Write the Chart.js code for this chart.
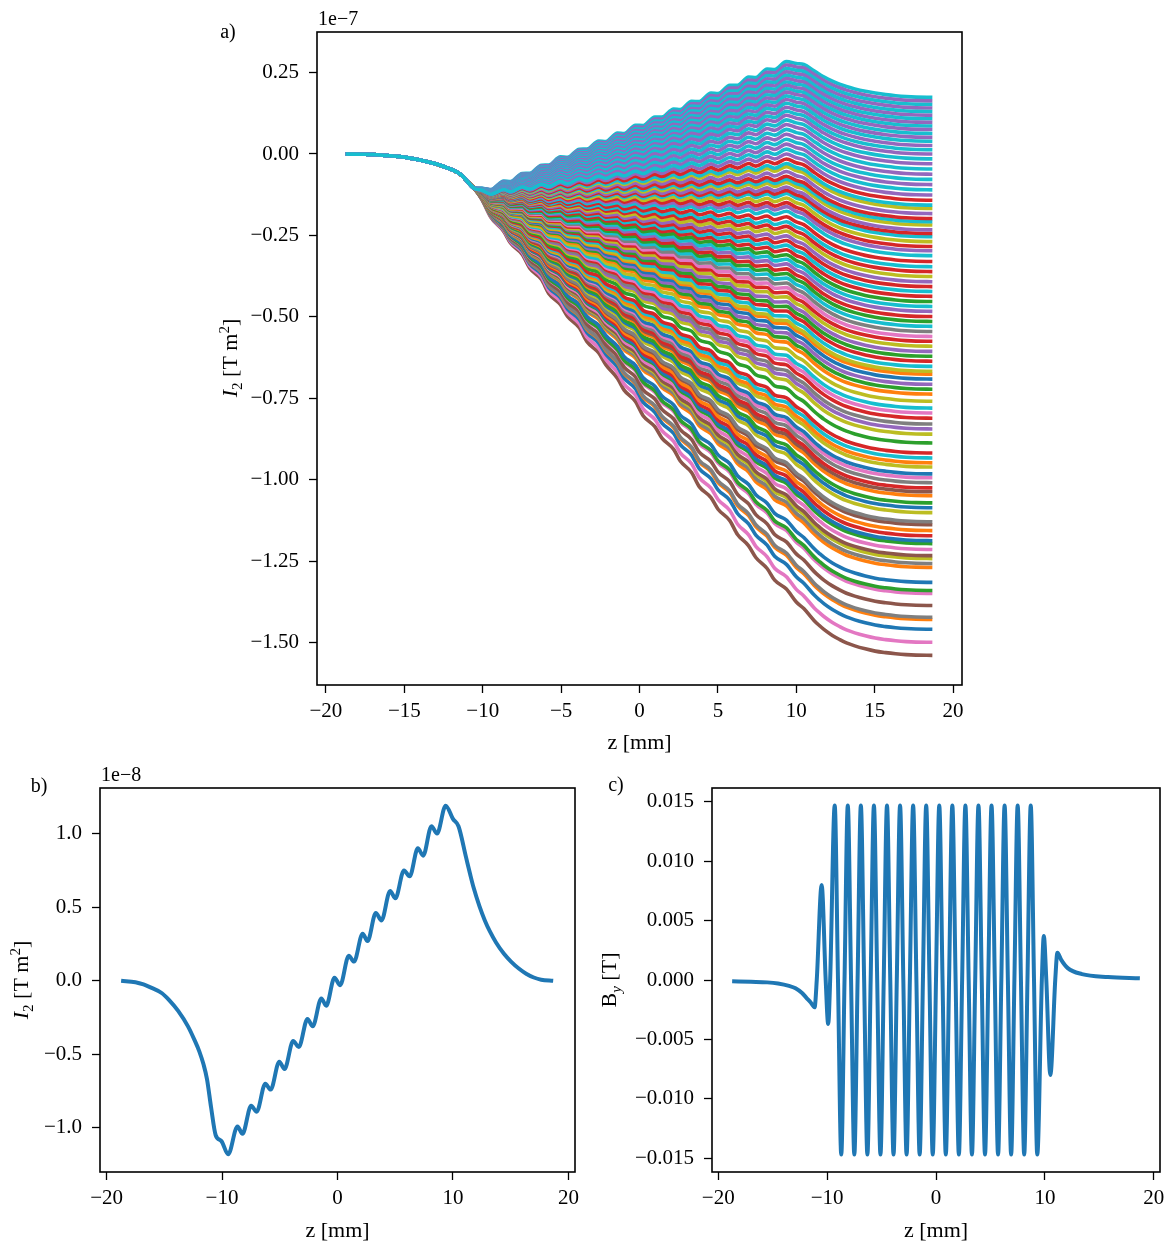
<!DOCTYPE html>
<html>
<head>
<meta charset="utf-8">
<title>I2 and By along z</title>
<script src="https://cdn.jsdelivr.net/npm/chart.js@4.4.1/dist/chart.umd.min.js"></script>
<style>
  html, body { margin: 0; padding: 0; background: #fff; }
  #wrap { position: relative; width: 1172px; height: 1245px; }
  .panel { position: absolute; }
</style>
</head>
<body>
<div id="wrap">
  <div class="panel" style="left:200px;top:0;width:780px;height:760px"><canvas id="chartA"></canvas></div>
  <div class="panel" style="left:0;top:760px;width:590px;height:485px"><canvas id="chartB"></canvas></div>
  <div class="panel" style="left:590px;top:760px;width:582px;height:485px"><canvas id="chartC"></canvas></div>
</div>
<script>
// ---------------- data ----------------
// z positions [mm] of the sampled second field integral
const zGrid = [-18.74, -17.5, -16.8, -16.2, -15.2, -14.6, -13.8, -12.95, -12.4, -11.97,
  -11.6, -11.3, -10.95, -10.55, -10.05, -9.47, -8.66, -8.23, -7.48, -7.0,
  -6.25, -5.79, -5.04, -4.59, -3.84, -3.35, -2.60, -2.15, -1.40, -0.98,
  -0.26, 0.23, 0.98, 1.43, 2.18, 2.60, 3.32, 3.81, 4.56, 5.01,
  5.76, 6.25, 6.96, 7.42, 8.14, 8.62, 9.37, 10.0, 10.48, 11.13,
  11.5, 11.78, 12.3, 12.76, 13.2, 13.73, 14.4, 15.03, 15.7, 16.34,
  17.0, 17.64, 18.68];

// b) second field integral I2 [1e-8 T m^2]
const I2b = [0, -0.01, -0.025, -0.045, -0.085, -0.13, -0.205, -0.31, -0.40, -0.48,
  -0.57, -0.67, -0.86, -1.05, -1.09, -1.18, -0.99, -1.04, -0.85, -0.89,
  -0.70, -0.74, -0.55, -0.60, -0.41, -0.45, -0.26, -0.31, -0.12, -0.17,
  0.02, -0.03, 0.17, 0.13, 0.32, 0.27, 0.46, 0.41, 0.61, 0.56,
  0.75, 0.71, 0.90, 0.85, 1.05, 1.00, 1.19, 1.10, 1.05, 0.84,
  0.72, 0.635, 0.505, 0.41, 0.335, 0.26, 0.185, 0.13, 0.083, 0.048,
  0.022, 0.007, 0];

// a) fraction of each trajectory's end offset reached at z (same z positions)
const driftA = [0, 0, 0, 0, 0, 0, 0, 0, 0, 0,
  0, 0, 0, 0, 0.02, 0.05, 0.09, 0.11, 0.145, 0.17,
  0.205, 0.23, 0.265, 0.285, 0.32, 0.345, 0.38, 0.40, 0.44, 0.46,
  0.495, 0.52, 0.555, 0.575, 0.61, 0.63, 0.665, 0.69, 0.725, 0.745,
  0.78, 0.805, 0.84, 0.86, 0.895, 0.915, 0.945, 0.965, 0.975, 0.985,
  0.988, 0.99, 0.993, 0.995, 0.997, 0.998, 0.999, 1, 1, 1,
  1, 1, 1];

// a) end value of each curve [1e-7 T m^2], in drawing order
const endValuesA = [
  -1.539, -1.499, -1.459, -1.429, -1.422, -1.386, -1.349, -1.340, -1.315, -1.269,
  -1.257, -1.242, -1.233, -1.214, -1.196, -1.187, -1.172, -1.156, -1.138, -1.129,
  -1.101, -1.086, -1.071, -1.049, -1.037, -1.025, -1.009, -0.994, -0.982, -0.961,
  -0.948, -0.933, -0.918, -0.887, -0.860, -0.844, -0.829, -0.811, -0.795, -0.780,
  -0.759, -0.737, -0.722, -0.707, -0.691, -0.676, -0.667, -0.652, -0.636, -0.621,
  -0.606, -0.590, -0.575, -0.560, -0.545, -0.529, -0.514, -0.499, -0.483, -0.468,
  -0.453, -0.437, -0.422, -0.407, -0.392, -0.376, -0.361, -0.346, -0.330, -0.312,
  -0.297, -0.284, -0.269, -0.254, -0.244, -0.233, -0.218, -0.208, -0.198, -0.183,
  -0.167, -0.157, -0.142, 0.174, 0.163, 0.152, 0.141, 0.130, 0.119, 0.108,
  0.097, 0.086, 0.075, 0.063, 0.051, 0.039, 0.026, 0.013, 0.000, -0.015,
  -0.030, -0.046, -0.062, -0.078, -0.094, -0.126, -0.110];
// colour-cycle index of each curve
const colorIdxA = [
  5, 6, 0, 1, 7, 5, 6, 2, 0, 1,
  7, 8, 5, 6, 2, 0, 3, 1, 5, 7,
  8, 0, 2, 1, 5, 3, 7, 6, 0, 8,
  1, 9, 3, 2, 8, 4, 7, 3, 6, 9,
  8, 1, 2, 4, 0, 1, 8, 9, 3, 2,
  4, 8, 3, 6, 7, 9, 2, 3, 4, 9,
  2, 3, 9, 3, 4, 8, 3, 9, 3, 9,
  4, 3, 8, 9, 3, 4, 8, 9, 3, 4,
  8, 9, 3, 9, 4, 9, 4, 9, 4, 9,
  4, 9, 4, 9, 4, 9, 4, 9, 4, 9,
  4, 9, 4, 9, 4, 4, 9];

// c) vertical field By [T]
const zC = [-18.72, -17.0, -15.5, -14.5, -13.5, -12.9, -12.3, -11.9, -11.5, -11.15,
  -10.95, -10.5, -10.13, -9.9, -9.72,
  -9.3, -9.0, -8.7, -8.4, -8.1, -7.8, -7.5, -7.2, -6.9, -6.6,
  -6.3, -6.0, -5.7, -5.4, -5.1, -4.8, -4.5, -4.2, -3.9, -3.6,
  -3.3, -3.0, -2.7, -2.4, -2.1, -1.8, -1.5, -1.2, -0.9, -0.6,
  -0.3, 0.0, 0.3, 0.6, 0.9, 1.2, 1.5, 1.8, 2.1, 2.4,
  2.7, 3.0, 3.3, 3.6, 3.9, 4.2, 4.5, 4.8, 5.1, 5.4,
  5.7, 6.0, 6.3, 6.6, 6.9, 7.2, 7.5, 7.8, 8.1, 8.4,
  8.7, 9.0, 9.3,
  9.72, 9.9, 10.13, 10.5, 10.95, 11.15, 11.5, 12.1, 13.4, 15.8, 18.72];
const ByC = [-0.0001, -0.00015, -0.0002, -0.0003, -0.0005, -0.0007, -0.0011, -0.0015, -0.0019, -0.0023,
  0, 0.0080, 0, -0.0037, 0,
  0.0147, 0, -0.0147, 0, 0.0147, 0, -0.0147, 0, 0.0147, 0,
  -0.0147, 0, 0.0147, 0, -0.0147, 0, 0.0147, 0, -0.0147, 0,
  0.0147, 0, -0.0147, 0, 0.0147, 0, -0.0147, 0, 0.0147, 0,
  -0.0147, 0, 0.0147, 0, -0.0147, 0, 0.0147, 0, -0.0147, 0,
  0.0147, 0, -0.0147, 0, 0.0147, 0, -0.0147, 0, 0.0147, 0,
  -0.0147, 0, 0.0147, 0, -0.0147, 0, 0.0147, 0, -0.0147, 0,
  0.0147, 0, -0.0147,
  0, 0.0037, 0, -0.0080, 0, 0.0023, 0.0017, 0.0010, 0.0005, 0.00025, 0.00014];

// axis ticks
const zTicksA = [-20, -15, -10, -5, 0, 5, 10, 15, 20];
const zTicksBC = [-20, -10, 0, 10, 20];
const yTicksA = [-1.5, -1.25, -1.0, -0.75, -0.5, -0.25, 0, 0.25];
const yTicksB = [-1.0, -0.5, 0, 0.5, 1.0];
const yTicksC = [-0.015, -0.010, -0.005, 0, 0.005, 0.010, 0.015];

// ---------------- style ----------------
const TAB10 = ['#1f77b4', '#ff7f0e', '#2ca02c', '#d62728', '#9467bd',
               '#8c564b', '#e377c2', '#7f7f7f', '#bcbd22', '#17becf'];
const SERIF = '"Liberation Serif", "Times New Roman", Times, serif';
const TICK_PX = 21, LABEL_PX = 22, SUB_PX = 15;
Chart.defaults.font.family = SERIF;
Chart.defaults.font.size = TICK_PX;
Chart.defaults.color = '#000';

const fmt = (v, d) => (Math.abs(v) < 1e-12 ? (0).toFixed(d) : v.toFixed(d)).replace('-', '\u2212');

// black frame round the plotting area
const framePlugin = {
  id: 'frame',
  afterDatasetsDraw(chart) {
    const { ctx, chartArea: a } = chart;
    ctx.save();
    ctx.strokeStyle = '#000';
    ctx.lineWidth = 1.6;
    ctx.strokeRect(a.left, a.top, a.right - a.left, a.bottom - a.top);
    ctx.restore();
  }
};

// free text with italic / sub / superscript pieces
function drawRich(ctx, it) {
  ctx.save();
  ctx.translate(it.x, it.y);
  if (it.rot) ctx.rotate(-Math.PI / 2);
  ctx.fillStyle = '#000';
  ctx.textBaseline = 'alphabetic';
  ctx.textAlign = 'left';
  const fontOf = s => (s.italic ? 'italic ' : '') + (s.size || LABEL_PX) + 'px ' + SERIF;
  let total = 0;
  it.segs.forEach(s => { ctx.font = fontOf(s); total += ctx.measureText(s.t).width; });
  let cx = it.align === 'left' ? 0 : -total / 2;
  it.segs.forEach(s => {
    ctx.font = fontOf(s);
    ctx.fillText(s.t, cx, s.dy || 0);
    cx += ctx.measureText(s.t).width;
  });
  ctx.restore();
}
const textPlugin = {
  id: 'texts',
  afterDraw(chart, args, opts) {
    (opts.items || []).forEach(it => drawRich(chart.ctx, it));
  }
};
Chart.register(framePlugin, textPlugin);

function scalesFor(o) {
  const grid = { drawOnChartArea: false, drawTicks: true, tickLength: 8, tickWidth: 1.3, tickColor: '#000' };
  return {
    x: {
      type: 'linear', min: o.xMin, max: o.xMax,
      afterBuildTicks: ax => { ax.ticks = o.xTicks.map(v => ({ value: v })); },
      afterFit: ax => { ax.height = o.xAxisH; },
      grid, border: { display: false },
      ticks: { autoSkip: false, maxRotation: 0, padding: 6, color: '#000',
               font: { size: TICK_PX }, callback: v => fmt(v, 0) }
    },
    y: {
      type: 'linear', min: o.yMin, max: o.yMax,
      afterBuildTicks: ax => { ax.ticks = o.yTicks.map(v => ({ value: v })); },
      afterFit: ax => { ax.width = o.yAxisW; },
      grid, border: { display: false },
      ticks: { autoSkip: false, padding: 10, color: '#000',
               font: { size: TICK_PX }, callback: v => fmt(v, o.yDec) }
    }
  };
}

function baseOptions(o, texts) {
  return {
    responsive: true, maintainAspectRatio: false, animation: false,
    devicePixelRatio: 1, events: [],
    layout: { padding: o.pad },
    plugins: { legend: { display: false }, tooltip: { enabled: false }, texts: { items: texts } },
    scales: scalesFor(o),
    elements: { point: { radius: 0 } }
  };
}

const I2label = (x, y) => ({ x, y, rot: true, segs: [
  { t: 'I', italic: true }, { t: '2', size: SUB_PX, dy: 5 },
  { t: ' [T m' }, { t: '2', size: SUB_PX, dy: -8 }, { t: ']' }] });

// ---------------- a) family of I2 curves ----------------
const curvesA = endValuesA.map((f, i) => ({
  data: zGrid.map((z, k) => ({ x: z, y: I2b[k] / 10 + f * driftA[k] })),
  borderColor: TAB10[colorIdxA[i]],
  borderWidth: 3.6,
  cubicInterpolationMode: 'monotone',
  fill: false
})).reverse();   // first listed is drawn first, last listed ends on top

new Chart(document.getElementById('chartA'), {
  type: 'line',
  data: { datasets: curvesA },
  options: baseOptions({
    xMin: -20.57, xMax: 20.57, xTicks: zTicksA, xAxisH: 75,
    yMin: -1.630, yMax: 0.3745, yTicks: yTicksA, yDec: 2, yAxisW: 117,
    pad: { top: 32, right: 18, left: 0, bottom: 0 }
  }, [
    { x: 28, y: 38, segs: [{ t: 'a)', size: 20 }] },
    { x: 118, y: 25, align: 'left', segs: [{ t: '1e\u22127', size: 20 }] },
    I2label(37, 358),
    { x: 439.5, y: 749, segs: [{ t: 'z [mm]' }] }
  ])
});

// ---------------- b) I2 on axis ----------------
new Chart(document.getElementById('chartB'), {
  type: 'line',
  data: { datasets: [{
    data: zGrid.map((z, k) => ({ x: z, y: I2b[k] })),
    borderColor: TAB10[0], borderWidth: 4, cubicInterpolationMode: 'monotone', fill: false
  }] },
  options: baseOptions({
    xMin: -20.57, xMax: 20.57, xTicks: zTicksBC, xAxisH: 73,
    yMin: -1.30, yMax: 1.31, yTicks: yTicksB, yDec: 1, yAxisW: 100,
    pad: { top: 28, right: 15, left: 0, bottom: 0 }
  }, [
    { x: 39, y: 32, segs: [{ t: 'b)', size: 20 }] },
    { x: 101, y: 21, align: 'left', segs: [{ t: '1e\u22128', size: 20 }] },
    I2label(28, 220),
    { x: 337.5, y: 477, segs: [{ t: 'z [mm]' }] }
  ])
});

// ---------------- c) By on axis ----------------
new Chart(document.getElementById('chartC'), {
  type: 'line',
  data: { datasets: [{
    data: zC.map((z, k) => ({ x: z, y: ByC[k] })),
    borderColor: TAB10[0], borderWidth: 4, cubicInterpolationMode: 'monotone', fill: false
  }] },
  options: baseOptions({
    xMin: -20.57, xMax: 20.57, xTicks: zTicksBC, xAxisH: 73,
    yMin: -0.01617, yMax: 0.01617, yTicks: yTicksC, yDec: 3, yAxisW: 122,
    pad: { top: 28, right: 12, left: 0, bottom: 0 }
  }, [
    { x: 26, y: 31, segs: [{ t: 'c)', size: 20 }] },
    { x: 26, y: 220, rot: true, segs: [
      { t: 'B' }, { t: 'y', italic: true, size: SUB_PX, dy: 5 }, { t: ' [T]' }] },
    { x: 346, y: 477, segs: [{ t: 'z [mm]' }] }
  ])
});
</script>
</body>
</html>
